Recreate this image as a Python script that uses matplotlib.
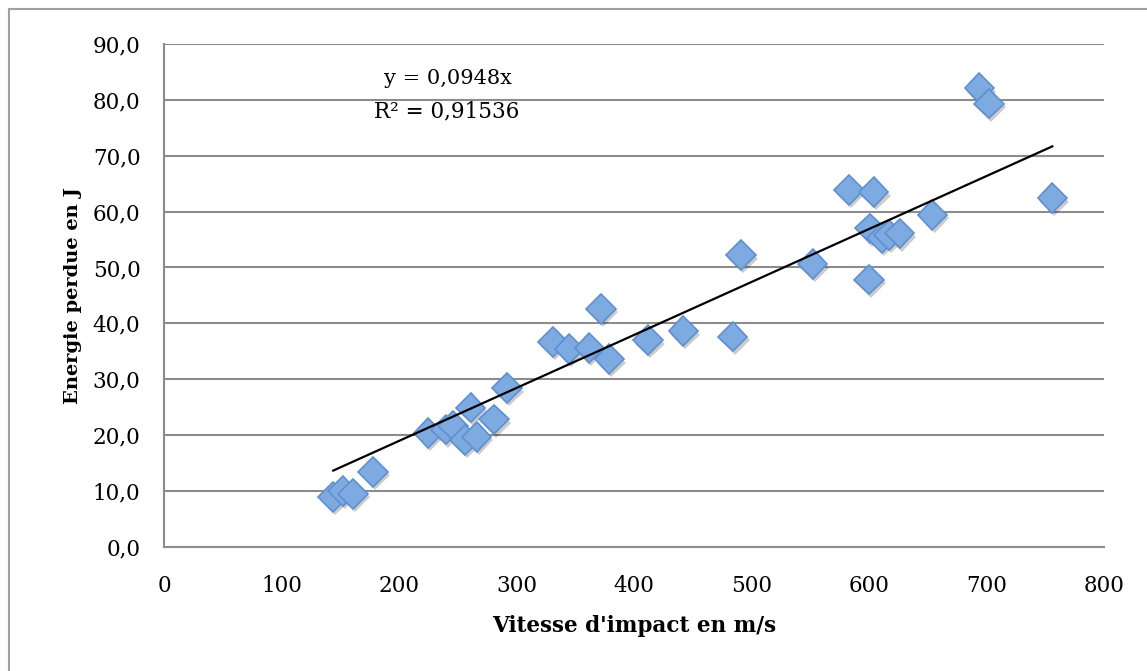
import numpy as np
import matplotlib.pyplot as plt
from matplotlib.patches import Rectangle
import matplotlib.patheffects as pe

# impact speed (m/s) and energy lost (J)
vitesse = [144, 152, 161, 178, 225, 240, 246, 256, 261, 266, 281, 292,
           331, 345, 362, 372, 379, 412, 442, 484, 491,
           552, 583, 600, 601, 604, 611, 617, 626, 654, 694, 702, 756]
energie = [8.9, 10.0, 9.5, 13.4, 20.4, 21.0, 21.7, 19.1, 24.9, 19.7, 22.8, 28.4,
           36.7, 35.4, 35.6, 42.6, 33.6, 37.0, 38.6, 37.6, 52.2,
           50.6, 63.9, 47.8, 57.0, 63.5, 55.3, 55.8, 56.1, 59.4, 82.1, 79.3, 62.4]
pente = 0.0948
r2 = 0.91536

x_ticks = list(range(0, 801, 100))
y_ticks = list(range(0, 91, 10))


def main():
    plt.rcParams['font.family'] = ['DejaVu Serif']
    fig = plt.figure(figsize=(11.47, 6.71), dpi=100)
    ax = fig.add_axes([0.143, 0.185, 0.8195, 0.7495])

    # outer chart border (only top/left visible)
    fig.patches.append(Rectangle((9 / 1147, -0.1), 1.2, 1 - 9 / 671 + 0.1,
                                 transform=fig.transFigure, fill=False,
                                 edgecolor='#a0a0a0', linewidth=1.5))

    shadow = [pe.SimplePatchShadow(offset=(1.5, -2.5), shadow_rgbFace='#000000', alpha=0.2),
              pe.Normal()]
    ax.plot(vitesse, energie, 'D', markersize=15, markerfacecolor='#7eaae2',
            markeredgecolor='#5f8fcf', markeredgewidth=1.2, zorder=3,
            path_effects=shadow)

    xs = np.array([min(vitesse), max(vitesse)])
    ax.plot(xs, pente * xs, color='black', linewidth=1.6, zorder=4)

    ax.text(242, 83.9, "y = 0,0948x", ha='center', va='center', fontsize=15)
    ax.text(241, 78.0, "R² = %s" % str(r2).replace('.', ','), ha='center',
            va='center', fontsize=15.5)

    ax.set_xlim(0, 800)
    ax.set_ylim(0, 90)
    ax.set_xticks(x_ticks)
    ax.set_yticks(y_ticks)
    ax.set_yticklabels([("%.1f" % v).replace('.', ',') for v in y_ticks])
    ax.tick_params(length=0, labelsize=15.5, pad=17)
    ax.tick_params(axis='x', pad=20)
    ax.yaxis.grid(True, color='#8c8c8c', linewidth=1.5)
    ax.set_axisbelow(True)
    for s in ('top', 'right'):
        ax.spines[s].set_visible(False)
    for s in ('left', 'bottom'):
        ax.spines[s].set_color('#8c8c8c')
        ax.spines[s].set_linewidth(1.5)

    ax.set_xlabel("Vitesse d'impact en m/s", fontsize=15.5, fontweight='bold', labelpad=13)
    ax.set_ylabel("Energie perdue en J", fontsize=14, fontweight='bold', labelpad=8)

    fig.savefig("out.png", dpi=100)


if __name__ == '__main__':
    main()
